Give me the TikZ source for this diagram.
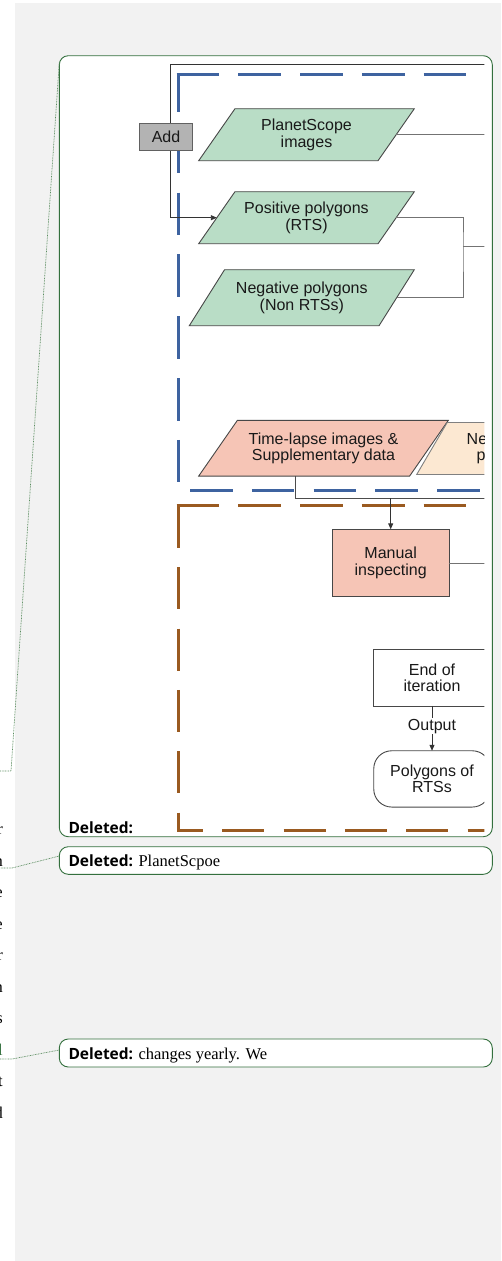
\documentclass[tikz,border=0pt]{standalone}
\usepackage{fontspec}
\setmainfont{Liberation Serif}
\newfontfamily\diafont{Liberation Sans}
\newfontfamily\notefont{Open Sans}
\usetikzlibrary{shapes.geometric,arrows.meta,positioning}

\definecolor{pagegray}{RGB}{242,242,242}
\definecolor{notegreen}{RGB}{52,112,62}
\definecolor{dotgreen}{RGB}{90,140,95}
\definecolor{datagreen}{RGB}{185,221,198}
\definecolor{datapink}{RGB}{246,197,182}
\definecolor{databeige}{RGB}{252,232,210}
\definecolor{addgray}{RGB}{179,179,179}
\definecolor{stageblue}{RGB}{62,99,160}
\definecolor{stagebrown}{RGB}{154,90,32}
\definecolor{linkgray}{RGB}{115,115,115}

\tikzset{
  notebox/.style={draw=notegreen, fill=white, line width=0.9pt, rounded corners=9pt, minimum width=433pt, inner sep=0pt, outer sep=0pt},
  notelabel/.style={inner sep=0pt, font=\notefont\bfseries\fontsize{15.5}{18}\selectfont},
  noteline/.style={draw=dotgreen, line width=0.7pt, dash pattern=on 0.8pt off 0.8pt},
  bodytext/.style={inner sep=0pt, font=\fontsize{16.5}{18}\selectfont},
  diatext/.style={inner sep=0pt, text=black!90, font=\diafont\fontsize{16}{16.4}\selectfont},
  data/.style={trapezium, trapezium stretches body, draw=black!72, line width=0.9pt, inner sep=0pt, outer sep=0pt, align=center, diatext},
  process/.style={rectangle, draw=black!72, line width=0.9pt, inner sep=0pt, outer sep=0pt, align=center, minimum width=116.5pt, diatext},
  addbox/.style={rectangle, draw=black!62, fill=addgray, line width=0.9pt, minimum width=53.4pt, minimum height=27.3pt, inner sep=0pt, diatext},
  stage/.style={line width=3pt},
  link/.style={draw=linkgray, line width=0.9pt},
  flow/.style={draw=black!80, line width=0.9pt, -{Triangle[length=6pt,width=5pt]}},
}

\begin{document}
\begin{tikzpicture}[x=1pt,y=-1pt]
  \useasboundingbox (0,0) rectangle (501,1261);
  % page and comment pane
  \fill[white] (0,0) rectangle (501,1261);
  \fill[pagegray] (15,3) rectangle (501,1261);

  % ends of the body text lines
  \foreach \ch/\yy [count=\i] in {r/834.5, n/866, e/897.5, e/929, r/960.5, n/992, s/1023.5, t/1086.5, d/1118}
    \node[bodytext, anchor=base east] (frag\i) at (3,\yy) {\ch};
  \node[bodytext, anchor=base east, text=notegreen] (frag10) at (3,1055) {l};

  % comment boxes
  \node[notebox, minimum height=781pt] (note1) at (275.8,446.2) {};
  \node[notebox, minimum height=27.6pt] (note2) at (275.8,860.5) {};
  \node[notebox, minimum height=28pt] (note3) at (275.8,1053) {};

  \coordinate (bend1) at (11,771);
  \coordinate (text1) at (0,771);
  \coordinate (bend2) at (12,868);
  \coordinate (text2) at (0,868);
  \coordinate (bend3) at (12,1059);
  \coordinate (text3) at (0,1059);
  \draw[noteline] ([yshift=-7pt]note1.north west) -- (bend1) -- (text1);
  \draw[noteline] ([yshift=4.5pt]note2.west) -- (bend2) -- (text2);
  \draw[noteline] ([yshift=3pt]note3.west) -- (bend3) -- (text3);

  % the deleted figure
  \begin{scope}
    \clip (60,57) rectangle (484.3,835);
    % detection stage
    \draw[stage, stageblue, dash pattern=on 42.6pt off 19.2pt] (176.5,74) -- (520,74);
    \draw[stage, stageblue, dash pattern=on 42.6pt off 19.2pt, dash phase=5pt] (178,74) -- (178,483);
    \draw[stage, stageblue, dash pattern=on 42.6pt off 19.2pt] (190,490) -- (520,490);
    % checking stage
    \draw[stage, stagebrown, dash pattern=on 42.6pt off 19.2pt] (176.5,505.7) -- (520,505.7);
    \draw[stage, stagebrown, dash pattern=on 42pt off 19.4pt] (178,505.7) -- (178,830) -- (520,830);

    % inputs
    \node[data, fill=datagreen, trapezium left angle=40.8, trapezium right angle=139.2, minimum width=215.6pt, minimum height=52pt] (ps) at (306.5,134.7) {PlanetScope\\images};
    \node[data, fill=datagreen, trapezium left angle=40.8, trapezium right angle=139.2, minimum width=215.6pt, minimum height=52pt] (pos) at (306.5,217.7) {Positive polygons\\(RTS)};
    \node[data, fill=datagreen, trapezium left angle=41.6, trapezium right angle=138.4, minimum width=225pt, minimum height=56pt] (neg) at (301.8,297.7) {Negative polygons\\(Non RTSs)};
    \node[data, fill=datapink, trapezium left angle=39, trapezium right angle=141, minimum width=249.6pt, minimum height=55.7pt] (tl) at (323.5,448.2) {Time-lapse images \&\\Supplementary data};
    \node[data, fill=databeige, draw=black!50, align=left, text width=140pt, trapezium left angle=45.2, trapezium right angle=134.8, minimum width=240pt, minimum height=52pt] (newp) at (536.7,448.5) {Ne\\\hspace*{10pt}p};

    \coordinate (psout) at (500,134.7);
    \draw[link] (ps.right side) -- (psout);
    \coordinate (join) at (463,246.7);
    \coordinate (joinout) at (500,246.7);
    \draw[link] (pos.right side) -| (join) |- (neg.right side);
    \draw[link] (join) -- (joinout);

    % loop back
    \coordinate (addin) at (500,64);
    \coordinate (addturn) at (170.5,64);
    \draw[flow] (addin) -- (addturn) |- (pos.left side);
    \node[addbox] (add) at (166,136.7) {Add};

    % checking
    \coordinate (tlout) at (500,498.3);
    \draw[link, draw=black!70] ([xshift=97pt]tl.bottom left corner) |- (tlout);
    \node[process, fill=datapink, minimum height=67.4pt] (manual) at (390.7,563) {Manual\\inspecting};
    \draw[flow] (manual.north |- tlout) -- (manual.north);
    \coordinate (manualout) at (500,563);
    \draw[link] (manual.east) -- (manualout);

    \node[process, fill=white, minimum height=56.3pt] (endit) at (432,677.8) {End of\\iteration};
    \node[process, fill=white, rounded corners=18pt, minimum height=56.3pt] (polys) at (432,778.9) {Polygons of\\RTSs};
    \draw[flow] (endit.south) -- node[pos=0.45, diatext, fill=white, inner sep=1pt] (outlab) {Output} (polys.north);
  \end{scope}

  % comment texts
  \node[notelabel, anchor=base west] (del1) at (68.3,833) {Deleted:};
  \node[notelabel, anchor=base west] (del2) at (68.3,866) {Deleted: {\rmfamily\mdseries\fontsize{16.5}{18}\selectfont PlanetScpoe}};
  \node[notelabel, anchor=base west] (del3) at (68.3,1059.3) {Deleted: {\rmfamily\mdseries\fontsize{16.5}{18}\selectfont changes yearly. We}};
\end{tikzpicture}
\end{document}
